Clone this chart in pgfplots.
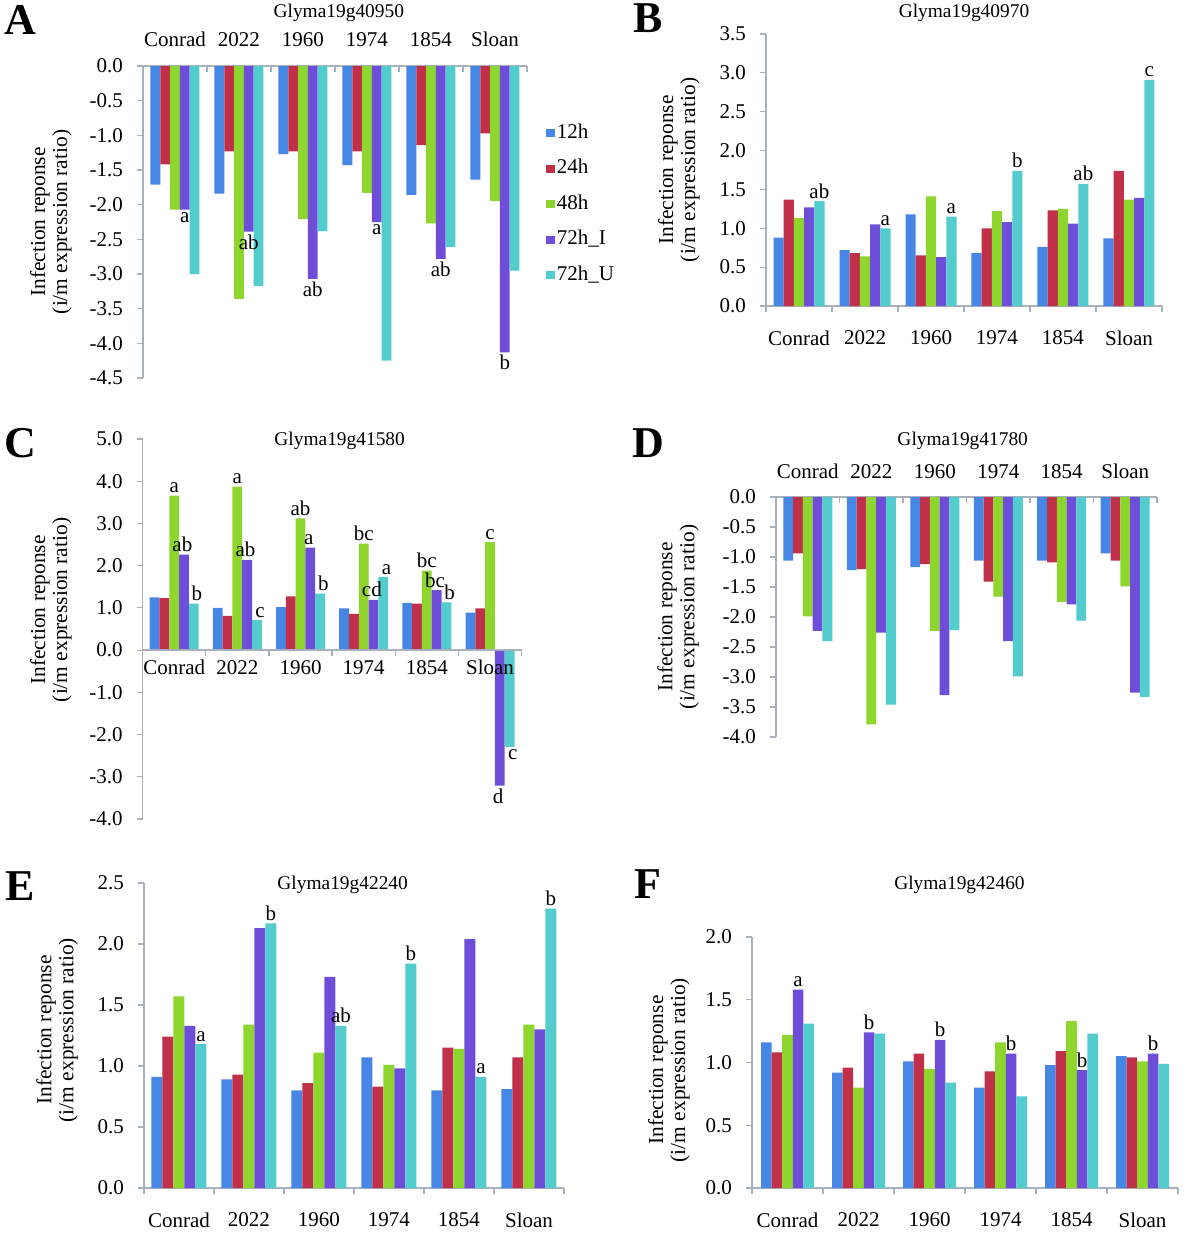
\documentclass[border=0pt]{standalone}
\usepackage{fontspec}
\setmainfont{Liberation Serif}
\usepackage{pgfplots}
\pgfplotsset{compat=1.18}

\definecolor{c12}{RGB}{70,134,228}
\definecolor{c24}{RGB}{192,48,72}
\definecolor{c48}{RGB}{142,214,46}
\definecolor{c72I}{RGB}{110,78,216}
\definecolor{c72U}{RGB}{82,204,204}
\definecolor{axgray}{RGB}{168,176,186}

\pgfplotsset{
  squarelegend/.style={legend image code/.code={\fill[##1] (0pt,-2.1pt) rectangle (4.2pt,2.1pt);}},
  panel/.style={
    scale only axis, anchor=north west, clip=false,
    xmin=-0.5, xmax=5.5,
    ybar=0pt,
    cycle list={{fill=c12,draw=none},{fill=c24,draw=none},{fill=c48,draw=none},{fill=c72I,draw=none},{fill=c72U,draw=none}},
    xtick={-0.5,0.5,...,5.5},
    xticklabels={,,,,,,,},
    extra x ticks={0,1,2,3,4,5},
    extra x tick labels={Conrad,2022,1960,1974,1854,Sloan},
    extra x tick style={major tick length=0pt},
    major tick length=3pt,
    axis line style={axgray, line width=0.7pt},
    every tick/.append style={axgray, line width=0.6pt},
    ytick align=outside,
    tick label style={font=\fontsize{10.5}{12}\selectfont},
    yticklabel style={/pgf/number format/.cd, fixed, fixed zerofill, precision=1, assume math mode=true, /tikz/.cd, xshift=-3.5pt},
    ylabel={Infection reponse\\(i/m expression ratio)},
    ylabel style={align=center, font=\fontsize{10.7}{11}\selectfont, anchor=center},
    every axis title shift=0pt,
    title style={font=\fontsize{9.7}{11}\selectfont, anchor=center},
  },
  letters/.style={nodes near coords, point meta=explicit symbolic,
    visualization depends on={rawy \as \yval},
    every node near coord/.append style={font=\fontsize{10.5}{12}\selectfont, inner sep=1.2pt, text=black,
      anchor=\ifdim\yval pt<0pt north\else south\fi}},
}

\begin{document}
\begin{tikzpicture}
\useasboundingbox (0,0) rectangle (600pt,-624pt);

% ---------------- A ----------------
\begin{axis}[panel, at={(71.5pt,-33pt)}, width=192pt, height=156pt,
  ymin=-4.5, ymax=0, ytick={-4.5,-4.0,...,0},
  axis x line*=top, axis y line*=left, xtick align=inside,
  xticklabel style={yshift=6pt},
  title={Glyma19g40950}, title style={at={(axis description cs:0.51,1.17)}},
  ylabel style={at={(axis description cs:-0.24,0.5)}},
  bar width=4.9pt,
  every axis plot post/.append style={squarelegend},
  legend style={draw=none, fill=none, at={(axis description cs:1.034,0.837)}, anchor=north west,
    font=\fontsize{10.5}{12}\selectfont, row sep=5.75pt, legend cell align=left,
    nodes={inner sep=1pt, text height=7.5pt, text depth=2.5pt}},
]
\addplot coordinates {(0,-1.71) (1,-1.84) (2,-1.27) (3,-1.43) (4,-1.86) (5,-1.64)};
\addplot coordinates {(0,-1.42) (1,-1.23) (2,-1.23) (3,-1.23) (4,-1.14) (5,-0.97)};
\addplot coordinates {(0,-2.07) (1,-3.36) (2,-2.21) (3,-1.83) (4,-2.27) (5,-1.95)};
\addplot+[letters] coordinates {(0,-2.07)[a] (1,-2.39)[ab] (2,-3.07)[ab] (3,-2.25)[a] (4,-2.78)[ab] (5,-4.13)[b]};
\addplot coordinates {(0,-3.00) (1,-3.17) (2,-2.38) (3,-4.25) (4,-2.61) (5,-2.95)};
\legend{12h,24h,48h,72h\_I,72h\_U}
\end{axis}

% ---------------- B ----------------
\begin{axis}[panel, at={(383pt,-17pt)}, width=198pt, height=136pt,
  ymin=0, ymax=3.5, ytick={0,0.5,...,3.5},
  axis x line*=bottom, axis y line*=left, xtick align=outside,
  xticklabel style={yshift=-8.8pt},
  title={Glyma19g40970}, title style={at={(axis description cs:0.5,1.077)}},
  ylabel style={at={(axis description cs:-0.22,0.5)}},
  bar width=5.1pt,
]
\addplot coordinates {(0,0.88) (1,0.72) (2,1.18) (3,0.68) (4,0.76) (5,0.87)};
\addplot coordinates {(0,1.37) (1,0.68) (2,0.65) (3,1.00) (4,1.23) (5,1.74)};
\addplot coordinates {(0,1.13) (1,0.64) (2,1.41) (3,1.22) (4,1.25) (5,1.37)};
\addplot coordinates {(0,1.27) (1,1.05) (2,0.63) (3,1.08) (4,1.06) (5,1.39)};
\addplot+[letters] coordinates {(0,1.35)[ab] (1,1.00)[a] (2,1.15)[a] (3,1.74)[b] (4,1.57)[ab] (5,2.91)[c]};
\end{axis}

% ---------------- C ----------------
\begin{axis}[panel, at={(71.3pt,-219.5pt)}, width=189.5pt, height=190pt,
  ymin=-4, ymax=5, ytick={-4,-3,...,5},
  axis x line*=middle, axis y line*=left, xtick align=outside, axis on top,
  xticklabel style={yshift=-1.5pt},
  title={Glyma19g41580}, title style={at={(axis description cs:0.52,0.995)}},
  ylabel style={at={(axis description cs:-0.242,0.55)}},
  bar width=4.9pt,
]
\addplot coordinates {(0,1.25) (1,1.00) (2,1.02) (3,0.99) (4,1.12) (5,0.89)};
\addplot coordinates {(0,1.23) (1,0.81) (2,1.27) (3,0.86) (4,1.10) (5,0.99)};
\addplot+[letters] coordinates {(0,3.66)[a] (1,3.87)[a] (2,3.12)[ab] (3,2.52)[bc] (4,1.88)[bc] (5,2.56)[c]};
\addplot+[letters, every node near coord/.append style={xshift=-0.8pt}] coordinates {(0,2.26)[ab] (1,2.14)[ab] (2,2.43)[a] (3,1.19)[cd] (4,1.42)[bc] (5,-3.21)[d]};
\addplot+[letters, every node near coord/.append style={xshift=1.6pt}] coordinates {(0,1.10)[b] (1,0.71)[c] (2,1.34)[b] (3,1.73)[a] (4,1.13)[b] (5,-2.29)[c]};
\end{axis}

% ---------------- D ----------------
\begin{axis}[panel, at={(388pt,-248.5pt)}, width=190.5pt, height=120pt,
  ymin=-4, ymax=0, ytick={-4.0,-3.5,...,0},
  axis x line*=top, axis y line*=left, xtick align=inside,
  xticklabel style={yshift=5.5pt},
  title={Glyma19g41780}, title style={at={(axis description cs:0.49,1.235)}},
  ylabel style={at={(axis description cs:-0.257,0.5)}},
  bar width=4.9pt,
]
\addplot coordinates {(0,-1.06) (1,-1.22) (2,-1.17) (3,-1.06) (4,-1.06) (5,-0.94)};
\addplot coordinates {(0,-0.94) (1,-1.20) (2,-1.12) (3,-1.41) (4,-1.09) (5,-1.06)};
\addplot coordinates {(0,-1.99) (1,-3.79) (2,-2.23) (3,-1.66) (4,-1.75) (5,-1.49)};
\addplot coordinates {(0,-2.23) (1,-2.26) (2,-3.30) (3,-2.40) (4,-1.79) (5,-3.26)};
\addplot coordinates {(0,-2.40) (1,-3.46) (2,-2.22) (3,-2.99) (4,-2.06) (5,-3.33)};
\end{axis}

% ---------------- E ----------------
\begin{axis}[panel, at={(72pt,-441.5pt)}, width=210pt, height=152.5pt,
  ymin=0, ymax=2.5, ytick={0,0.5,...,2.5},
  axis x line*=bottom, axis y line*=left, xtick align=outside,
  xticklabel style={yshift=-8.8pt},
  title={Glyma19g42240}, title style={at={(axis description cs:0.473,0.993)}},
  ylabel style={at={(axis description cs:-0.207,0.518)}},
  bar width=5.5pt,
]
\addplot coordinates {(0,0.91) (1,0.89) (2,0.80) (3,1.07) (4,0.80) (5,0.81)};
\addplot coordinates {(0,1.24) (1,0.93) (2,0.86) (3,0.83) (4,1.15) (5,1.07)};
\addplot coordinates {(0,1.57) (1,1.34) (2,1.11) (3,1.01) (4,1.14) (5,1.34)};
\addplot coordinates {(0,1.33) (1,2.13) (2,1.73) (3,0.98) (4,2.04) (5,1.30)};
\addplot+[letters] coordinates {(0,1.18)[a] (1,2.17)[b] (2,1.33)[ab] (3,1.84)[b] (4,0.91)[a] (5,2.29)[b]};
\end{axis}

% ---------------- F ----------------
\begin{axis}[panel, at={(376pt,-468.5pt)}, width=213pt, height=125.5pt,
  ymin=0, ymax=2, ytick={0,0.5,...,2},
  axis x line*=bottom, axis y line*=left, xtick align=outside,
  xticklabel style={yshift=-8.8pt},
  title={Glyma19g42460}, title style={at={(axis description cs:0.487,1.207)}},
  ylabel style={at={(axis description cs:-0.195,0.47)}},
  bar width=5.3pt,
]
\addplot coordinates {(0,1.16) (1,0.92) (2,1.01) (3,0.80) (4,0.98) (5,1.05)};
\addplot coordinates {(0,1.08) (1,0.96) (2,1.07) (3,0.93) (4,1.09) (5,1.04)};
\addplot coordinates {(0,1.22) (1,0.80) (2,0.95) (3,1.16) (4,1.33) (5,1.01)};
\addplot+[letters] coordinates {(0,1.58)[a] (1,1.24)[b] (2,1.18)[b] (3,1.07)[b] (4,0.94)[b] (5,1.07)[b]};
\addplot coordinates {(0,1.31) (1,1.23) (2,0.84) (3,0.73) (4,1.23) (5,0.99)};
\end{axis}

% panel letters
\node[font=\bfseries\fontsize{22}{22}\selectfont] at (10pt,-10pt) {A};
\node[font=\bfseries\fontsize{22}{22}\selectfont] at (324pt,-9pt) {B};
\node[font=\bfseries\fontsize{22}{22}\selectfont] at (10pt,-221.5pt) {C};
\node[font=\bfseries\fontsize{22}{22}\selectfont] at (324pt,-221.5pt) {D};
\node[font=\bfseries\fontsize{22}{22}\selectfont] at (10pt,-443pt) {E};
\node[font=\bfseries\fontsize{22}{22}\selectfont] at (324pt,-442pt) {F};
\end{tikzpicture}
\end{document}
